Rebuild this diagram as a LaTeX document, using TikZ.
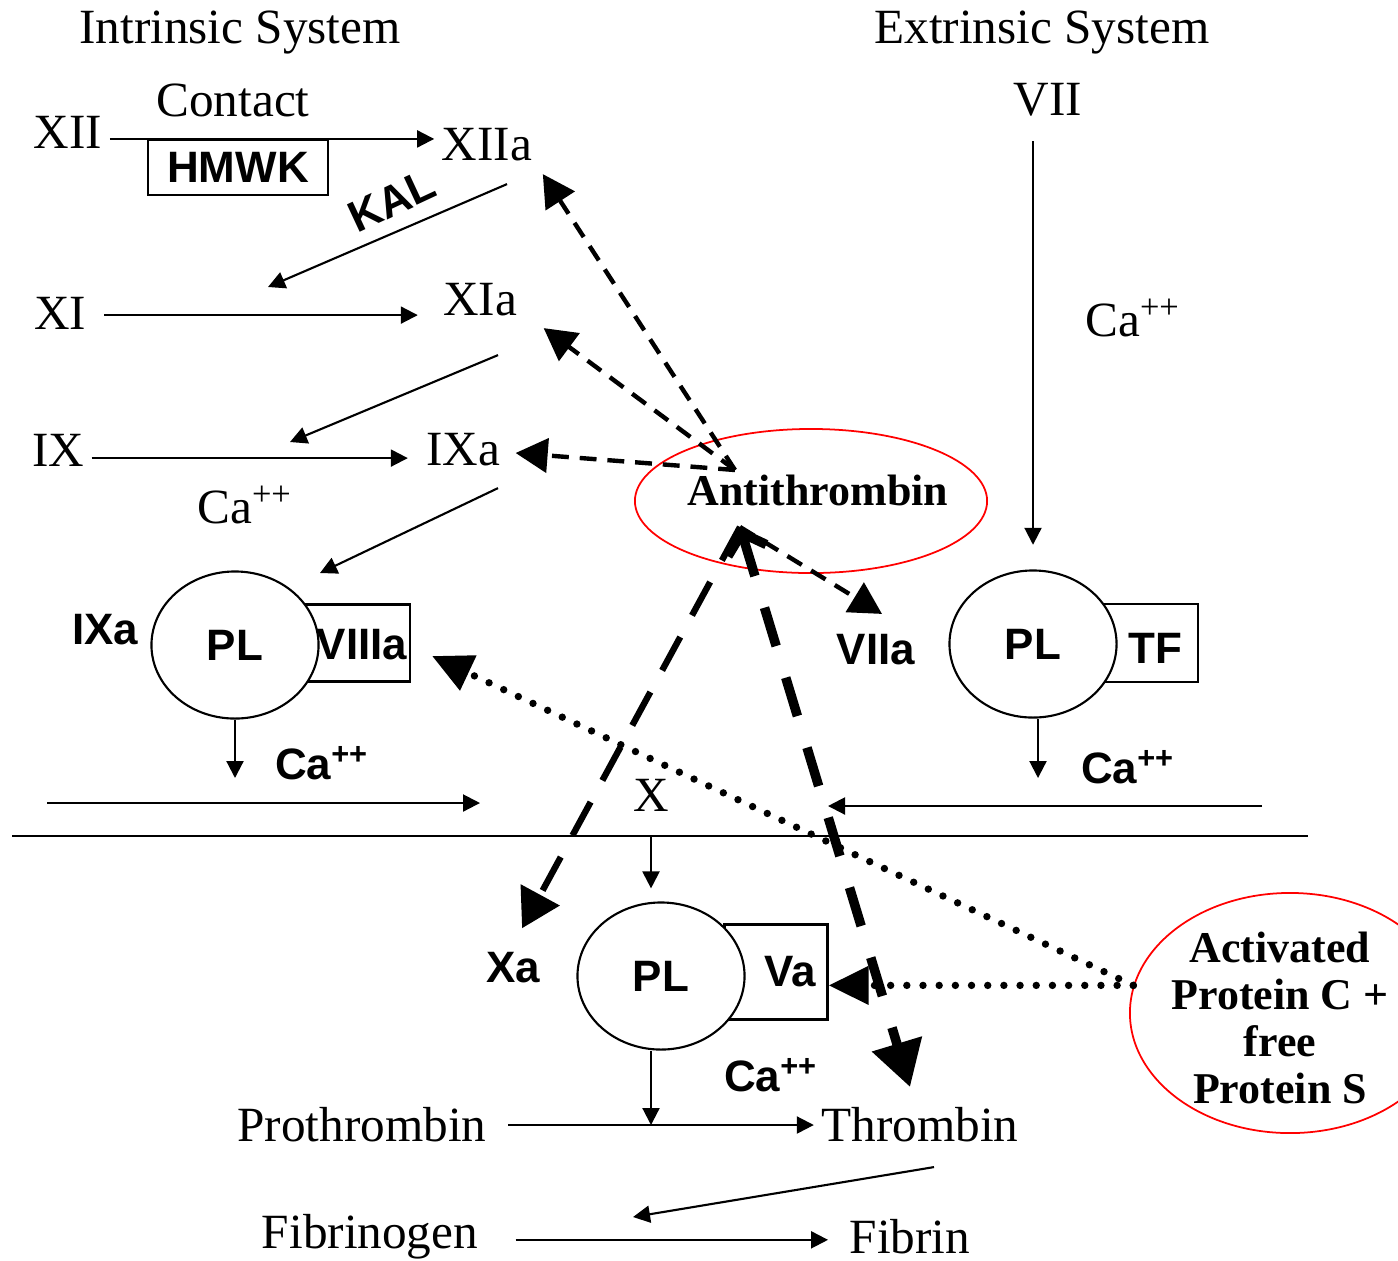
\documentclass[tikz,border=0pt]{standalone}
\usepackage{fontspec}
\setmainfont{Liberation Serif}
\setsansfont{Liberation Sans}
\usepackage{tikz}
\usetikzlibrary{arrows.meta,shapes.geometric,positioning}

\begin{document}
\begin{tikzpicture}[x=0.01cm, y=-0.01cm,
    lbl/.style={font=\fontsize{14}{16}\selectfont, inner sep=2pt},
    bsans/.style={font=\sffamily\bfseries\fontsize{12.5}{14}\selectfont, inner sep=2pt},
    bserif/.style={font=\bfseries\fontsize{12.5}{13.4}\selectfont, align=center, inner sep=2pt},
    cofbox/.style={rectangle, draw, line width=0.6pt, inner sep=0pt},
    plcell/.style={ellipse, draw, fill=white, line width=0.6pt, inner sep=0pt,
        minimum width=1.67cm, minimum height=1.47cm, font=\sffamily\bfseries\fontsize{12.5}{14}\selectfont},
    ring/.style={ellipse, draw=red, line width=0.5pt, inner sep=0pt},
    arr/.style={line width=0.6pt, -{Triangle[length=0.17cm,width=0.17cm]}},
    inhib/.style={line width=1.25pt, dash pattern=on 4.8pt off 3.1pt, -{Triangle[length=0.32cm,width=0.34cm]}},
    inhibx/.style={line width=1.8pt, dash pattern=on 10.8pt off 7pt, -{Triangle[length=0.38cm,width=0.43cm]}},
    inhibth/.style={line width=2.7pt, dash pattern=on 11.4pt off 9.4pt,
        {Straight Barb[length=0.18cm,width=0.4cm]}-{Triangle[length=0.45cm,width=0.5cm]}},
    apcdot/.style={line width=2.1pt, line cap=round, dash pattern=on 0pt off 4.6pt, -{Triangle[length=0.4cm,width=0.37cm]}}]
    \useasboundingbox (0,0) rectangle (1398,1260);
    \clip (0,0) rectangle (1398,1260);

    % Titles
    \node[lbl] (intr) at (240,33) {Intrinsic System};
    \node[lbl] (extr) at (1042,33) {Extrinsic System};

    % Intrinsic cascade
    \node[lbl] (contact) at (233,100) {Contact};
    \node[lbl] (xii) at (68,132) {XII};
    \node[cofbox, minimum width=1.80cm, minimum height=0.55cm, font=\sffamily\bfseries\fontsize{12.5}{14}\selectfont] (hmwk) at (238,167.5) {HMWK};
    \node[lbl] (xiia) at (487,145) {XIIa};
    \node[bsans, rotate=25, inner sep=0pt] (kal) at (392,201) {KAL};
    \node[lbl] (xi) at (60,313) {XI};
    \node[lbl] (xia) at (480,300) {XIa};
    \node[lbl] (ix) at (58,450) {IX};
    \node[lbl] (ixa) at (463,450) {IXa};
    \node[lbl] (ca1) at (245,505) {Ca\textsuperscript{++}};

    % Tenase complex
    \node[bsans] (ixa2) at (105,630) {IXa};
    \node[cofbox, minimum width=1.10cm, minimum height=0.77cm] (viiibox) at (355,643) {};
    \node[plcell] (pl1) at (235,645) {PL};
    \node[bsans] (viiia) at (362,645) {VIIIa};
    \node[bsans] (ca2) at (322,763) {Ca\textsuperscript{++}};

    % Extrinsic side
    \node[lbl] (vii) at (1048,100) {VII};
    \node[lbl] (ca4) at (1133,318) {Ca\textsuperscript{++}};
    \node[cofbox, minimum width=0.98cm, minimum height=0.78cm] (tfbox) at (1149,643) {};
    \node[plcell] (pl3) at (1033,644) {PL};
    \node[bsans] (tf) at (1155,648) {TF};
    \node[bsans] (ca5) at (1128,767) {Ca\textsuperscript{++}};
    \node[bsans] (viia) at (876,650) {VIIa};

    % Common pathway
    \node[lbl] (x) at (651,795) {X};
    \node[cofbox, minimum width=1.03cm, minimum height=0.95cm] (vabox) at (776,972) {};
    \node[plcell] (pl2) at (661,976) {PL};
    \node[bsans] (va) at (790,972) {Va};
    \node[bsans] (xa) at (513,968) {Xa};
    \node[bsans] (ca3) at (771,1075) {Ca\textsuperscript{++}};
    \node[lbl] (prot) at (362,1125) {Prothrombin};
    \node[lbl] (thr) at (920,1125) {Thrombin};
    \node[lbl] (fibg) at (370,1237) {Fibrinogen};
    \node[lbl] (fib) at (910,1237) {Fibrin};

    % Inhibitors
    \node[ring, minimum width=3.52cm, minimum height=1.44cm] (atring) at (811,501) {};
    \node[bserif] (at) at (818,490) {Antithrombin};
    \node[ring, minimum width=3.2cm, minimum height=2.4cm] (apcring) at (1290,1013) {};
    \node[bserif] (apc) at (1280,1018) {Activated\\Protein C +\\free\\Protein S};

    % Free ends
    \coordinate (k1) at (268,287);
    \coordinate (k2) at (290,442);
    \coordinate (k3) at (320,573);
    \coordinate (d1) at (235,778);
    \coordinate (d3) at (1038,778);
    \coordinate (lin1) at (47,803);
    \coordinate (lin2) at (480,803);
    \coordinate (rin1) at (1262,806);
    \coordinate (rin2) at (828,806);
    \coordinate (mem1) at (12,836);
    \coordinate (mem2) at (1308,836);
    \coordinate (t1) at (633,1217);
    \coordinate (attop) at (735,470);
    \coordinate (atbot) at (740,527);

    % Activation arrows
    \draw[arr] (xii.east |- hmwk.north) -- (xiia.west |- hmwk.north);
    \draw[arr] ([shift={(20,15)}]xiia.south) -- (k1);
    \draw[arr, shorten <=3pt, shorten >=5pt] ([yshift=-0.6pt]xi.east) -- ([yshift=-0.6pt]xi.east -| xia.west);
    \draw[arr] ([shift={(18,31)}]xia.south) -- (k2);
    \draw[arr, shorten >=3pt] ([yshift=-2.3pt]ix.east) -- ([yshift=-2.3pt]ix.east -| ixa.west);
    \draw[arr] ([shift={(35,14)}]ixa.south) -- (k3);
    \draw[arr] (pl1.south) -- (d1);
    \draw[arr] (lin1) -- (lin2);
    \draw[arr, shorten <=4.8pt, shorten >=7pt] (vii.south -| pl3.north) -- (pl3.north);
    \draw[arr] (pl3.south -| d3) -- (d3);
    \draw[arr] (rin1) -- (rin2);
    \draw[line width=0.6pt] (mem1) -- (mem2);
    \draw[arr, shorten >=3.7pt] (x |- mem1) -- (x |- pl2.north);
    \draw[arr] (pl2.south -| x) -- (x |- prot.east);
    \draw[arr, shorten <=4pt] (prot.east) -- (prot.east -| thr.west);
    \draw[arr] ([shift={(14,17)}]thr.south) -- (t1);
    \draw[arr, shorten <=8.5pt, shorten >=4pt] ([yshift=-0.8pt]fibg.east) -- ([yshift=-0.8pt]fibg.east -| fib.west);

    % Antithrombin inhibition
    \draw[inhib] (attop) -- ([shift={(3,5)}]xiia.south east);
    \draw[inhib] (attop) -- ([shift={(19,4)}]xia.south east);
    \draw[inhib] (attop) -- ([shift={(8,3)}]ixa.east);
    \draw[inhib] (atbot) -- ([shift={(6,-13)}]viia.north);
    \draw[inhibx, shorten >=5.4pt] (atbot) -- (xa.north);
    \draw[inhibth] (atbot) -- ([shift={(-10,-13)}]thr.north);

    % Protein C inhibition
    \draw[apcdot] (apcring.170) -- ([shift={(21,13)}]viiibox.east);
    \draw[apcdot] (apcring.170) -- (apcring.170 -| vabox.east);
\end{tikzpicture}
\end{document}
